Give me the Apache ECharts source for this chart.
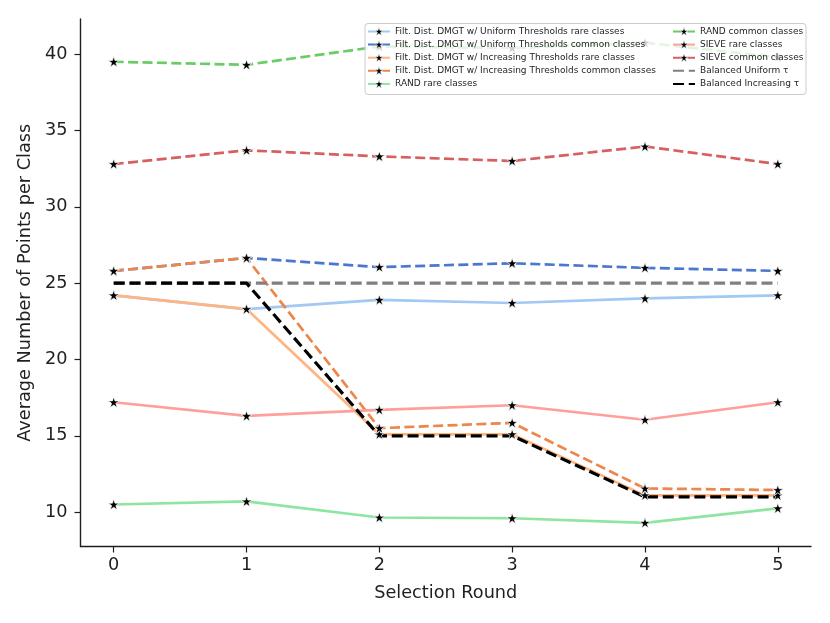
<!DOCTYPE html>
<html>
<head>
<meta charset="utf-8">
<script src="https://cdn.jsdelivr.net/npm/echarts@6/dist/echarts.min.js"></script>
<style>
  html, body { margin: 0; padding: 0; background: #fff; }
  #chart { width: 830px; height: 623px; }
</style>
</head>
<body>
<div id="chart"></div>
<script>
'use strict';

// selection rounds on the x axis
const rounds = [0, 1, 2, 3, 4, 5];
const xTicks = [0, 1, 2, 3, 4, 5];
const yTicks = [10, 15, 20, 25, 30, 35, 40];

// average number of points per class
const uniformRare = [24.2, 23.3, 23.9, 23.7, 24.0, 24.2];
const uniformCommon = [25.8, 26.65, 26.05, 26.3, 26.0, 25.8];
const increasingRare = [24.2, 23.3, 15.1, 15.1, 11.1, 11.1];
const increasingCommon = [25.8, 26.65, 15.5, 15.85, 11.55, 11.45];
const randRare = [10.5, 10.7, 9.65, 9.6, 9.3, 10.25];
const randCommon = [39.5, 39.3, 40.5, 40.4, 40.75, 39.8];
const sieveRare = [17.2, 16.3, 16.7, 17.0, 16.05, 17.2];
const sieveCommon = [32.8, 33.7, 33.3, 33.0, 33.95, 32.8];
const balancedUniform = [25, 25, 25, 25, 25, 25];
const balancedIncreasing = [25, 25, 15, 15, 11, 11];

const STAR = 'path://M50,0 L61.8,35.4 L100,35.4 L69.1,57.3 L80.9,95.1 L50,72.4 L19.1,95.1 L30.9,57.3 L0,35.4 L38.2,35.4 Z';
const textColor = '#1f1f1f';
const fontFamily = 'DejaVu Sans';

function pairs(values) {
    return rounds.map((r, i) => [r, values[i]]);
}

function markedLine(name, values, color, dashed) {
    return {
        name,
        type: 'line',
        data: pairs(values),
        symbol: STAR,
        symbolSize: 11,
        symbolKeepAspect: true,
        showSymbol: true,
        color,
        itemStyle: { color: '#000', borderColor: '#fff', borderWidth: 0.7 },
        lineStyle: { color, width: 2.7, type: dashed ? [10, 4.4] : 'solid' },
        emphasis: { disabled: true }
    };
}

function plainLine(name, values, color) {
    return {
        name,
        type: 'line',
        data: pairs(values),
        symbol: 'none',
        color,
        lineStyle: { color, width: 3.2, type: [11, 4.8] },
        emphasis: { disabled: true }
    };
}

const series = [
    markedLine('Filt. Dist. DMGT w/ Uniform Thresholds rare classes', uniformRare, '#a1c9f4', false),
    markedLine('Filt. Dist. DMGT w/ Uniform Thresholds common classes', uniformCommon, '#4878d0', true),
    markedLine('Filt. Dist. DMGT w/ Increasing Thresholds rare classes', increasingRare, '#ffb482', false),
    markedLine('Filt. Dist. DMGT w/ Increasing Thresholds common classes', increasingCommon, '#ee854a', true),
    markedLine('RAND rare classes', randRare, '#8de5a1', false),
    markedLine('RAND common classes', randCommon, '#6acc64', true),
    markedLine('SIEVE rare classes', sieveRare, '#ff9f9b', false),
    markedLine('SIEVE common classes', sieveCommon, '#d65f5f', true),
    plainLine('Balanced Uniform τ', balancedUniform, '#808080'),
    plainLine('Balanced Increasing τ', balancedIncreasing, '#000000')
];

// legend entries: black star on the coloured line, balanced lines without a marker
function legendItems(list) {
    return list.map(s => ({
        name: s.name,
        itemStyle: s.symbol === 'none' ? { opacity: 0 } : { color: '#000', borderColor: '#fff', borderWidth: 0.5 }
    }));
}

const legendBase = {
    orient: 'vertical',
    top: 26.5,
    padding: 0,
    itemWidth: 22,
    itemHeight: 10,
    itemGap: 3.1,
    selectedMode: false,
    z: 20,
    textStyle: { color: textColor, fontFamily, fontSize: 9, lineHeight: 10 }
};

const options = {
    animation: false,
    backgroundColor: '#fff',
    textStyle: { fontFamily, color: textColor },
    grid: { left: 80.5, right: 19, top: 19, bottom: 76.5, containLabel: false },
    legend: [
        Object.assign({}, legendBase, { left: 367, data: legendItems(series.slice(0, 5)) }),
        Object.assign({}, legendBase, { left: 672, data: legendItems(series.slice(5)) })
    ],
    graphic: [{
        type: 'rect',
        z: 10,
        shape: { x: 365, y: 23.5, width: 441, height: 71, r: 3 },
        style: { fill: 'rgba(255,255,255,0.8)', stroke: '#cccccc', lineWidth: 1 }
    }],
    xAxis: {
        type: 'value',
        min: -0.25,
        max: 5.25,
        name: 'Selection Round',
        nameLocation: 'middle',
        nameGap: 38,
        nameTextStyle: { fontSize: 17.7, color: textColor, fontFamily },
        splitLine: { show: false },
        axisLine: { show: true, onZero: false, lineStyle: { color: textColor, width: 1.4 } },
        axisTick: { show: true, length: 6, customValues: xTicks, lineStyle: { color: textColor, width: 1.2 } },
        axisLabel: { customValues: xTicks, fontSize: 17.7, color: textColor, margin: 10, fontFamily }
    },
    yAxis: {
        type: 'value',
        min: 7.75,
        max: 42.3,
        name: 'Average Number of Points per Class',
        nameLocation: 'middle',
        nameGap: 35,
        nameRotate: 90,
        nameTextStyle: { fontSize: 17.7, color: textColor, fontFamily },
        splitLine: { show: false },
        axisLine: { show: true, onZero: false, lineStyle: { color: textColor, width: 1.4 } },
        axisTick: { show: true, length: 6, customValues: yTicks, lineStyle: { color: textColor, width: 1.2 } },
        axisLabel: { customValues: yTicks, fontSize: 17.7, color: textColor, margin: 13, fontFamily }
    },
    series
};

const chart = echarts.init(document.getElementById('chart'));
chart.setOption(options);
window.addEventListener('resize', () => {
    chart.resize();
});
</script>
</body>
</html>
